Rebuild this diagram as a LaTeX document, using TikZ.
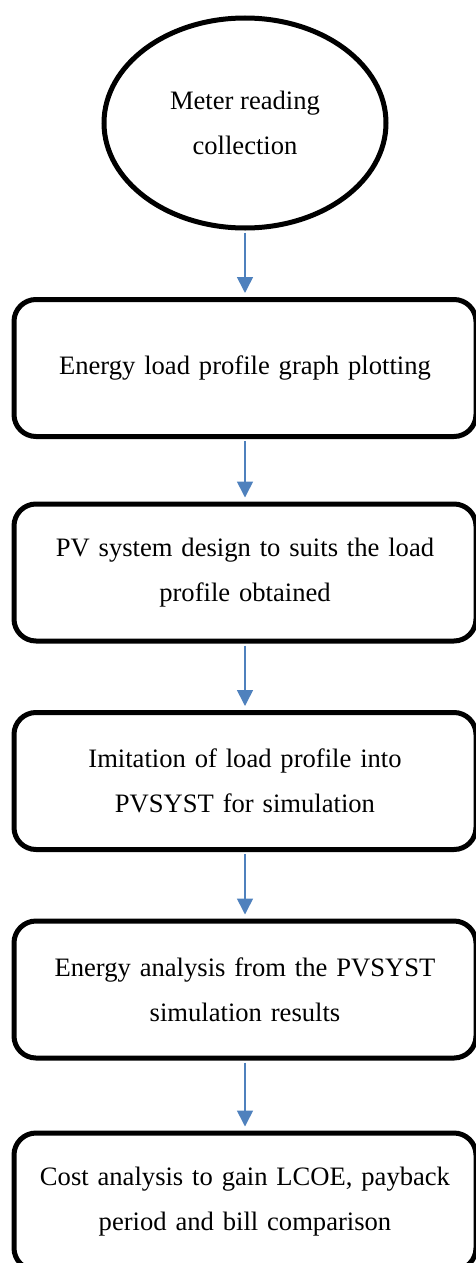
\documentclass[tikz,border=0pt]{standalone}
\usepackage{fontspec}
\setmainfont{Liberation Serif}
\usetikzlibrary{arrows.meta, shapes.geometric, positioning}
\definecolor{arrowblue}{HTML}{4F81BD}
\newcommand{\flowfont}{\fontsize{26.6pt}{45pt}\selectfont}

\begin{document}
\begin{tikzpicture}[x=1pt, y=-1pt,
        procbox/.style={draw, line width=5pt, rounded corners=22pt,
            minimum width=462pt, minimum height=137pt, inner sep=0pt,
            text width=440pt, align=center, font=\flowfont},
        flowarrow/.style={-{Triangle[length=16pt, width=16pt]},
            line width=1.6pt, draw=arrowblue, shorten >=4pt, shorten <=2pt}]
        \useasboundingbox (0, 0) rectangle (476, 1263);
        \node[ellipse, draw, line width=5pt, minimum width=282pt,
            minimum height=210pt, inner sep=0pt, align=center,
            font=\flowfont] (meter) at (245, 123)
            {Meter reading\\collection};
        \node[procbox] (loadgraph) at (245, 368)
            {Energy load profile graph plotting};
        \node[procbox] (pvdesign) at (245, 572.5)
            {PV system design to suits the load\\profile obtained};
        \node[procbox] (imitation) at (245, 781)
            {Imitation of load profile into\\PVSYST for simulation};
        \node[procbox] (energy) at (245, 989.5)
            {Energy analysis from the PVSYST\\simulation results};
        \node[procbox] (cost) at (245, 1201.5)
            {Cost analysis to gain LCOE, payback\\period and bill comparison};
        \draw[flowarrow] (meter) -- (loadgraph);
        \draw[flowarrow] (loadgraph) -- (pvdesign);
        \draw[flowarrow] (pvdesign) -- (imitation);
        \draw[flowarrow] (imitation) -- (energy);
        \draw[flowarrow] (energy) -- (cost);
    \end{tikzpicture}
\end{document}
